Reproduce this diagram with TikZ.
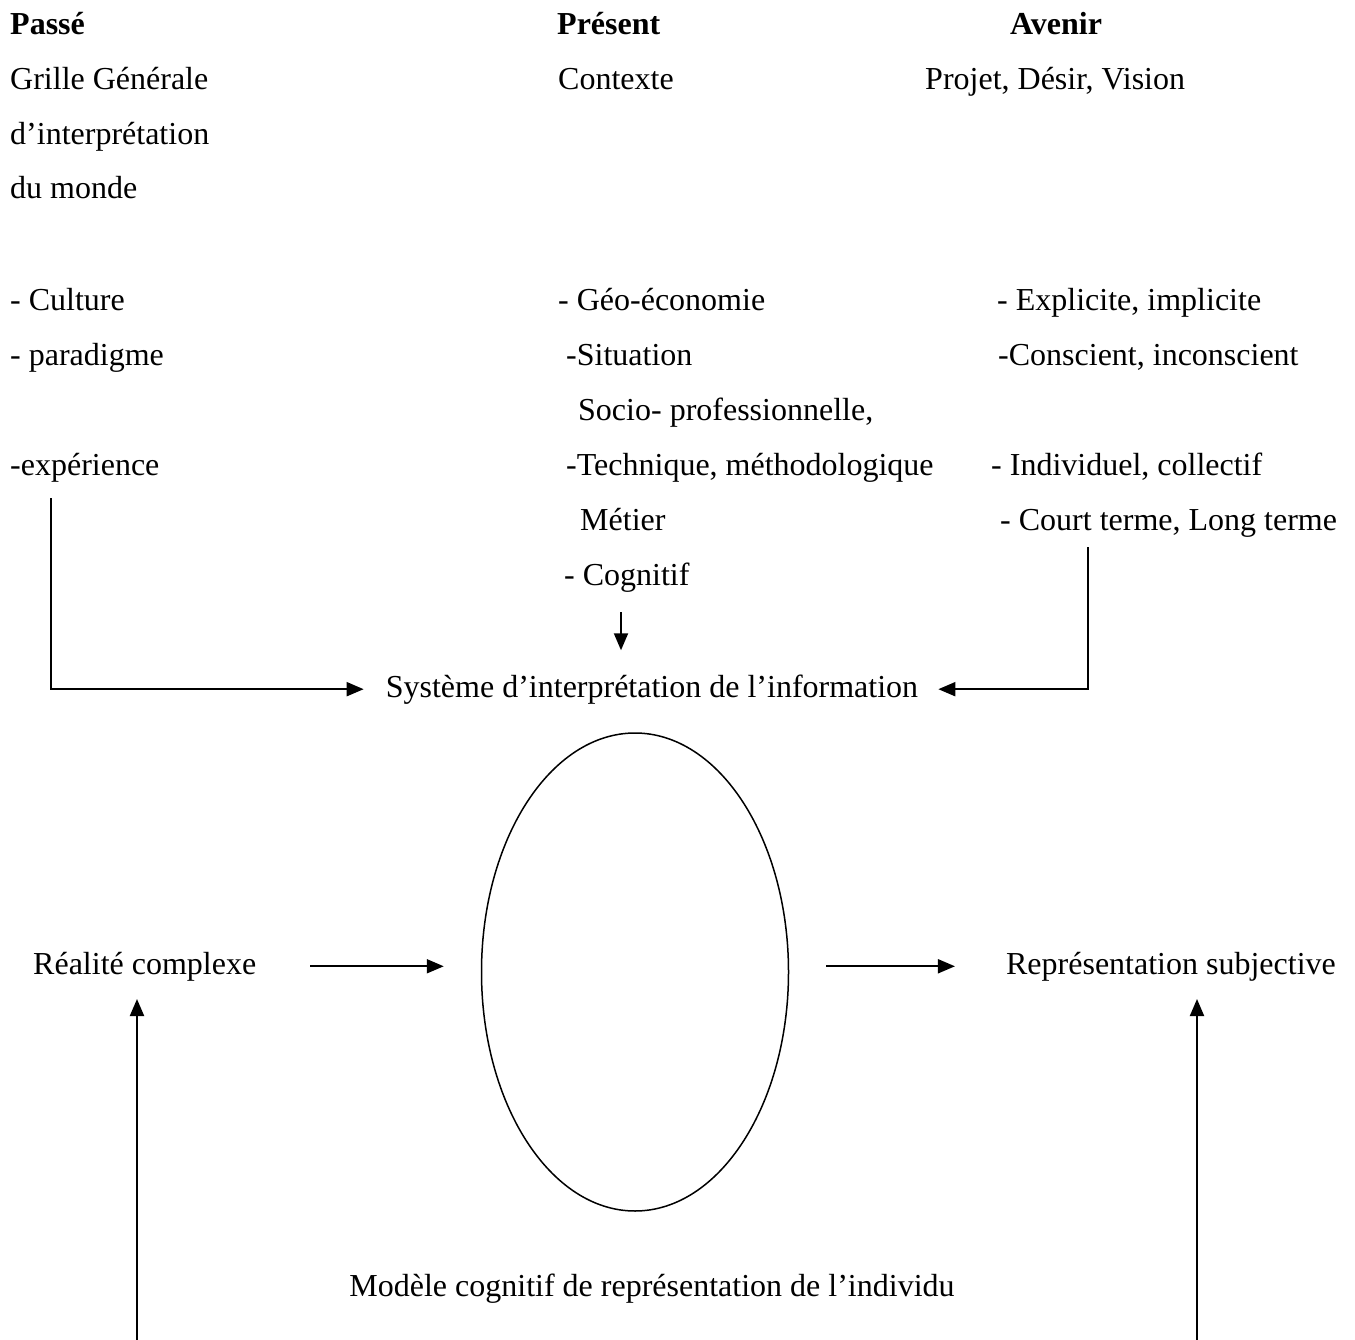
\documentclass[tikz,border=0pt]{standalone}
\usepackage{fontspec}
\setmainfont{Liberation Serif}
\usetikzlibrary{arrows.meta,shapes.geometric}
\begin{document}
\begin{tikzpicture}[x=1pt,y=-1pt,
  txt/.style={anchor=base west,inner sep=0pt,font=\fontsize{32pt}{38pt}\selectfont},
  ctxt/.style={anchor=base,inner sep=0pt,font=\fontsize{32pt}{38pt}\selectfont},
  head/.style={txt,font=\fontsize{32pt}{38pt}\selectfont\bfseries},
  link/.style={line width=2pt,-{Triangle[length=17pt,width=14pt]}},
  oval/.style={draw,ellipse,line width=1.5pt,minimum width=307pt,minimum height=478pt,inner sep=0pt}]
\useasboundingbox (0,0) rectangle (1355,1340);
% Passé
\node[head] (passe) at (10,35) {Passé};
\node[txt] (grille) at (10,90) {Grille Générale};
\node[txt] (interp) at (10,145) {d’interprétation};
\node[txt] (monde) at (10,199) {du monde};
\node[txt] (culture) at (10,311) {- Culture};
\node[txt] (paradigme) at (10,366) {- paradigme};
\node[txt] (experience) at (10,475) {-expérience};
% Présent
\node[head] (present) at (557,35) {Présent};
\node[txt] (contexte) at (558,90) {Contexte};
\node[txt] (geo) at (558,311) {- Géo-économie};
\node[txt] (situation) at (566,366) {-Situation};
\node[txt] (socio) at (578,420) {Socio- professionnelle,};
\node[txt] (technique) at (566,475) {-Technique, méthodologique};
\node[txt] (metier) at (580,530) {Métier};
\node[txt] (cognitif) at (564,585) {- Cognitif};
% Avenir
\node[head] (avenir) at (1010,35) {Avenir};
\node[txt] (projet) at (925,90) {Projet, Désir, Vision};
\node[txt] (explicite) at (997,311) {- Explicite, implicite};
\node[txt] (conscient) at (998,366) {-Conscient, inconscient};
\node[txt] (individuel) at (991,475) {- Individuel, collectif};
\node[txt] (court) at (1000,530) {- Court terme, Long terme};
% Centre
\node[ctxt] (sys) at (652,697) {Système d’interprétation de l’information};
\node[oval] (ell) at (635,972) {};
\node[txt] (real) at (33,974) {Réalité complexe};
\node[ctxt,anchor=base east] (rep) at (1336,974) {Représentation subjective};
\node[ctxt] (modele) at (652,1296) {Modèle cognitif de représentation de l’individu};
% Connecteurs
\coordinate (expfoot) at (51,498);
\coordinate (courtfoot) at (1088,547);
\coordinate (mid) at (621,0);
\coordinate (bl) at (137,1340);
\coordinate (br) at (1197,1340);
\draw[link,shorten >=22pt] (expfoot) |- (sys.west);
\draw[link,shorten >=20pt] (courtfoot) |- (sys.east);
\draw[link,shorten <=20pt,shorten >=24pt] (cognitif.south -| mid) -- (sys.north -| mid);
\draw[link,shorten <=54pt,shorten >=37pt] (real.east) -- (real.east -| ell.west);
\draw[link,shorten <=37pt,shorten >=51pt] (rep.west -| ell.east) -- (rep.west);
\draw[link,shorten >=18pt] (bl) -- (bl |- real.south);
\draw[link,shorten >=18pt] (br) -- (br |- rep.south);
\end{tikzpicture}
\end{document}
